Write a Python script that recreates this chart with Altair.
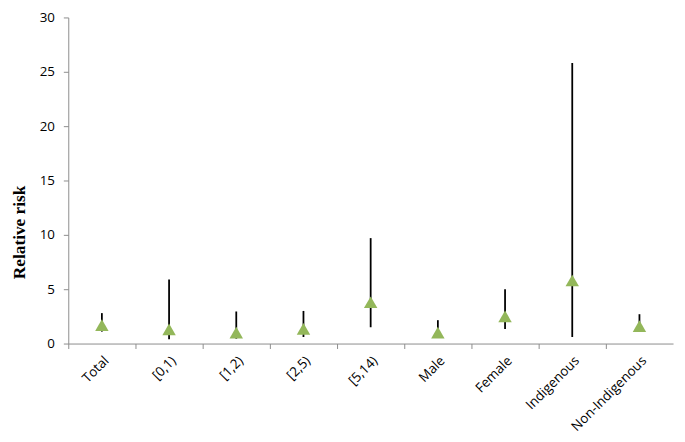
import altair as alt
import pandas as pd

categories = ["Total", "[0,1)", "[1,2)", "[2,5)", "[5,14)", "Male", "Female", "Indigenous", "Non-Indigenous"]
rr = [1.7, 1.3, 1.0, 1.35, 3.8, 1.0, 2.5, 5.8, 1.6]
lower = [1.1, 0.4, 0.45, 0.6, 1.5, 0.7, 1.34, 0.6, 1.1]
upper = [2.8, 5.9, 2.95, 3.0, 9.7, 2.15, 5.0, 25.8, 2.7]

df = pd.DataFrame({"cat": categories, "rr": rr, "lo": lower, "hi": upper})

xenc = alt.X("cat:N", sort=categories, title=None,
             scale=alt.Scale(paddingInner=0, paddingOuter=0),
             axis=alt.Axis(labelAngle=-45, labelAlign="right", labelBaseline="top",
                           labelFont="Open Sans", labelFontSize=13.5, labelColor="#000000",
                           domainColor="#8c8c8c", tickColor="#8c8c8c", tickSize=5,
                           bandPosition=0, labelPadding=5, grid=False))

rules = alt.Chart(df).mark_rule(color="#000000", strokeWidth=1.8).encode(
    x=xenc,
    y=alt.Y("lo:Q", scale=alt.Scale(domain=[0, 30], nice=False), title="Relative risk",
            axis=alt.Axis(values=[0, 5, 10, 15, 20, 25, 30], grid=False,
                          labelFont="Open Sans", labelFontSize=13.5, labelColor="#000000",
                          domainColor="#8c8c8c", tickColor="#8c8c8c", tickSize=5, labelPadding=9,
                          titleFont="Liberation Serif", titleFontSize=17.5, titleFontWeight="bold",
                          titleColor="#000000", titlePadding=11, titleY=217)),
    y2="hi:Q",
)

points = alt.Chart(df).mark_point(shape="triangle-up", filled=True, opacity=1,
                                  color="#93b75a", size=185).encode(
    x=alt.X("cat:N", sort=categories),
    y=alt.Y("rr:Q"),
)

chart = (rules + points).properties(
    width=612, height=330,
    autosize=alt.AutoSizeParams(type="none"),
    padding={"left": 61, "top": 7, "right": 4, "bottom": 92},
).configure_view(stroke=None)

chart.save("out.html", embed_options={"renderer": "svg", "actions": False})
